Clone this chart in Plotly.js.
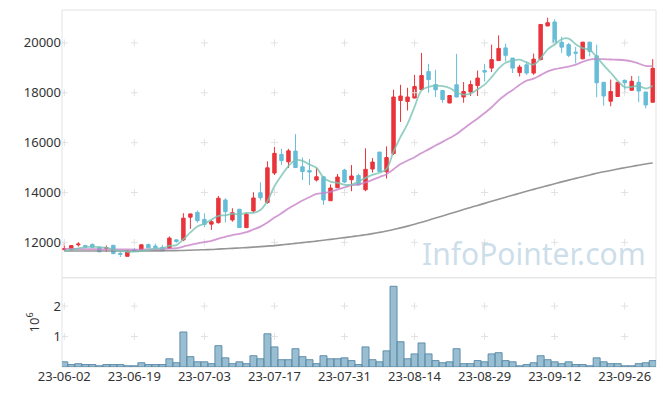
<!DOCTYPE html>
<html>
<head>
<meta charset="utf-8">
<script src="https://cdn.plot.ly/plotly-3.0.1.min.js"></script>
<style>html,body{margin:0;padding:0;background:#fff;}#chart{width:665px;height:396px;}</style>
</head>
<body>
<div id="chart"></div>
<script>
const dates = ["23-06-02","23-06-05","23-06-07","23-06-08","23-06-09","23-06-12","23-06-13","23-06-14","23-06-15","23-06-16",
"23-06-19","23-06-20","23-06-21","23-06-22","23-06-23","23-06-26","23-06-27","23-06-28","23-06-29","23-06-30",
"23-07-03","23-07-04","23-07-05","23-07-06","23-07-07","23-07-10","23-07-11","23-07-12","23-07-13","23-07-14",
"23-07-17","23-07-18","23-07-19","23-07-20","23-07-21","23-07-24","23-07-25","23-07-26","23-07-27","23-07-28",
"23-07-31","23-08-01","23-08-02","23-08-03","23-08-04","23-08-07","23-08-08","23-08-09","23-08-10","23-08-11",
"23-08-14","23-08-16","23-08-17","23-08-18","23-08-21","23-08-22","23-08-23","23-08-24","23-08-25","23-08-28",
"23-08-29","23-08-30","23-08-31","23-09-01","23-09-04","23-09-05","23-09-06","23-09-07","23-09-08","23-09-11",
"23-09-12","23-09-13","23-09-14","23-09-15","23-09-18","23-09-19","23-09-20","23-09-21","23-09-22","23-09-25",
"23-09-26","23-09-27","23-10-04","23-10-05","23-10-06"];

const open = [11720,11700,11900,11870,11910,11800,11760,11880,11560,11440,
11700,11700,11910,11850,11800,11760,12100,12100,13010,13200,
12920,12730,12790,13700,12900,13330,12590,13260,13990,13600,
14780,15530,15230,15660,15030,14880,14500,14630,13670,14190,
14900,14510,14680,14110,14940,15620,14830,15560,17690,17650,
17790,18130,18850,18330,18090,17590,18320,17830,18030,18290,
18890,18990,19290,19800,19390,18810,19120,18790,19330,20680,
20840,20030,19930,19630,19360,20030,19480,18420,17660,17850,
18500,18100,18420,18030,17620];
const high = [11980,11880,12010,11900,11960,11830,11870,11900,11620,11690,
11780,11930,11950,11950,11900,12240,12110,13170,13150,13280,
13160,12900,13860,13770,13370,13340,13170,14010,14410,15250,
15830,15750,15750,16340,15400,15340,14990,14660,14320,14740,
14950,15100,14750,15770,15380,15630,15850,18120,18320,18200,
18720,19600,19160,18920,18100,17900,19560,18430,18490,18890,
19160,19930,20300,19970,19400,19120,19250,19570,20750,21010,
20950,20250,20000,19840,20040,20040,19930,18430,18530,18430,
18530,18670,18670,18040,19350];
const low = [11650,11650,11830,11790,11760,11610,11620,11520,11410,11430,
11620,11690,11760,11720,11660,11740,11990,12050,12540,12790,
12610,12500,12750,12800,12830,12580,12580,13200,13680,13550,
14700,15110,14980,14990,14500,14300,14440,13500,13660,14180,
14380,14050,14280,14050,14800,14830,14560,15500,16830,17290,
17780,18120,18000,17830,17600,17580,17820,17600,17870,17870,
18450,18830,19280,19260,18790,18650,18720,18720,19300,20670,
19990,19600,19430,19180,19350,19460,17820,17480,17460,17840,
17990,18090,17620,17370,17610];
const close = [11740,11870,11930,11810,11800,11620,11780,11550,11520,11640,
11650,11900,11780,11790,11680,12170,12030,12970,13140,12870,
12720,12830,13770,13230,13190,12590,13130,13780,13790,14990,
15570,15280,15670,15000,14840,14820,14630,13700,14180,14620,
14420,14660,14310,14930,15220,14840,15400,17830,17870,17830,
18250,18690,18530,18120,17730,17890,17830,18050,18330,18590,
18830,19330,19780,19500,18990,19030,18790,19350,20740,20810,
20000,19830,19500,19590,20030,19660,18400,17870,18050,18420,
18400,18460,18070,17510,18980];

const ma5 = [11660,11700,11760,11810,11830,11806,11788,11712,11654,11622,
11628,11652,11698,11752,11760,11864,11890,12128,12398,12636,
12746,12906,13066,13084,13148,13122,13182,13184,13296,13656,
14252,14682,15060,15302,15272,15122,14992,14598,14434,14390,
14310,14316,14438,14588,14708,14792,14940,15644,16232,16754,
17436,18094,18234,18284,18264,18192,18020,17924,17966,18138,
18326,18626,18972,19206,19286,19326,19218,19132,19380,19744,
19938,20146,20176,19946,19790,19722,19436,19110,18802,18480,
18228,18240,18280,18172,18284];
const ma20 = [11740,11735,11730,11728,11725,11722,11720,11718,11716,11714,
11712,11712,11714,11718,11728,11751,11768,11831,11903,11962,
12011,12059,12151,12222,12292,12340,12408,12519,12633,12800,
12996,13165,13360,13520,13678,13811,13941,13977,14029,14117,
14202,14293,14320,14405,14507,14619,14733,14935,15139,15281,
15415,15586,15729,15885,16029,16183,16343,16560,16768,16966,
17187,17420,17694,17922,18111,18320,18490,18566,18709,18858,
18946,19003,19051,19125,19240,19328,19357,19348,19334,19325,
19304,19260,19175,19075,19075];
const ma120 = [11650,11650,11650,11650,11650,11650,11650,11650,11650,11650,
11650,11650,11655,11660,11660,11665,11670,11675,11685,11695,
11705,11715,11730,11745,11760,11775,11790,11810,11830,11850,
11870,11900,11930,11960,11990,12020,12050,12085,12120,12155,
12190,12225,12265,12305,12350,12400,12455,12515,12580,12650,
12725,12805,12890,12975,13060,13145,13230,13315,13400,13482,
13564,13646,13728,13810,13890,13970,14048,14125,14200,14275,
14350,14425,14495,14565,14635,14705,14770,14830,14885,14940,
14995,15045,15095,15140,15180];

const volume = [0.17,0.08,0.11,0.08,0.08,0.04,0.08,0.08,0.08,0.04,
0.04,0.14,0.08,0.08,0.08,0.27,0.14,1.15,0.34,0.17,
0.17,0.11,0.70,0.30,0.11,0.17,0.11,0.37,0.27,1.09,
0.66,0.24,0.24,0.60,0.34,0.24,0.11,0.37,0.27,0.27,
0.30,0.21,0.08,0.66,0.24,0.17,0.53,2.65,0.83,0.27,
0.43,0.79,0.43,0.21,0.14,0.17,0.60,0.11,0.11,0.21,
0.17,0.43,0.47,0.21,0.17,0.04,0.08,0.14,0.37,0.24,
0.17,0.11,0.17,0.08,0.08,0.04,0.30,0.17,0.11,0.11,
0.04,0.04,0.11,0.14,0.21];

const tickLabels = ["23-06-02","23-06-19","23-07-03","23-07-17","23-07-31","23-08-14","23-08-29","23-09-12","23-09-26"];
const priceTicks = [12000,14000,16000,18000,20000];
const volTicks = [1,2];

const gx = [], gy = [], vx = [], vy = [];
tickLabels.forEach(t => {
  priceTicks.forEach(p => { gx.push(t); gy.push(p); });
  volTicks.forEach(v => { vx.push(t); vy.push(v); });
});

const UP = '#e9343b', DOWN = '#66bdd8';
const traces = [
  {type:'candlestick', x:dates, open:open, high:high, low:low, close:close, xaxis:'x', yaxis:'y',
   hoverinfo:'skip', whiskerwidth:0,
   increasing:{line:{color:UP, width:1}, fillcolor:UP},
   decreasing:{line:{color:DOWN, width:1}, fillcolor:DOWN}},
  {type:'scatter', mode:'markers', x:gx, y:gy, xaxis:'x', yaxis:'y', hoverinfo:'skip',
   marker:{symbol:'cross-thin', size:5, line:{color:'#e2e2e2', width:1}}},
  {type:'scatter', mode:'markers', x:vx, y:vy, xaxis:'x', yaxis:'y2', hoverinfo:'skip',
   marker:{symbol:'cross-thin', size:5, line:{color:'#e2e2e2', width:1}}},
  {type:'scatter', mode:'lines', x:dates, y:ma120, xaxis:'x', yaxis:'y', hoverinfo:'skip',
   line:{color:'rgba(130,130,130,0.85)', width:1.6, shape:'spline'}},
  {type:'scatter', mode:'lines', x:dates, y:ma20, xaxis:'x', yaxis:'y', hoverinfo:'skip',
   line:{color:'rgba(200,130,200,0.8)', width:1.8, shape:'spline'}},
  {type:'scatter', mode:'lines', x:dates, y:ma5, xaxis:'x', yaxis:'y', hoverinfo:'skip',
   line:{color:'rgba(120,195,180,0.8)', width:1.8, shape:'spline'}},
  {type:'bar', x:dates, y:volume, xaxis:'x', yaxis:'y2', hoverinfo:'skip',
   marker:{color:'rgba(125,172,196,0.78)', line:{color:'rgba(85,135,165,0.9)', width:1}}}
];

const layout = {
  width:665, height:396,
  margin:{l:62, r:9, t:10, b:28.5},
  paper_bgcolor:'#fff', plot_bgcolor:'#fff',
  showlegend:false, bargap:0,
  font:{family:'"Noto Sans", "Open Sans", sans-serif', size:13, color:'#333'},
  xaxis:{type:'category', categoryorder:'array', categoryarray:dates, anchor:'y2', range:[-0.33, 84.47],
         showgrid:false, zeroline:false,
         tickmode:'array', tickvals:tickLabels, ticktext:tickLabels, ticks:'', showline:false,
         tickfont:{size:13, color:'#333'}, rangeslider:{visible:false}},
  yaxis:{domain:[0.25,1], anchor:'x', range:[10580, 21320], tickmode:'array', tickvals:priceTicks,
         tickformat:'d', showgrid:false, zeroline:false, ticks:'', tickfont:{size:13, color:'#333'}},
  yaxis2:{domain:[0,0.25], anchor:'x', range:[0, 2.93], tickmode:'array', tickvals:volTicks,
          showgrid:false, zeroline:false, ticks:'', tickfont:{size:13, color:'#333'},
          title:{text:'10<sup>6</sup>', font:{size:13, color:'#333'}, standoff:11}},
  shapes:[
    {type:'rect', xref:'paper', yref:'paper', x0:0, x1:1, y0:0.25, y1:1, line:{color:'#e3e3e3', width:1}, layer:'below'},
    {type:'rect', xref:'paper', yref:'paper', x0:0, x1:1, y0:0, y1:0.25, line:{color:'#e3e3e3', width:1}, layer:'below'}
  ],
  annotations:[
    {text:'InfoPointer.com', xref:'paper', yref:'paper', x:0.986, y:0.318, xanchor:'right', yanchor:'middle',
     showarrow:false, font:{size:30, color:'rgba(170,200,218,0.6)', family:'"Noto Sans", sans-serif'}}
  ]
};

Plotly.newPlot('chart', traces, layout, {staticPlot:true, displayModeBar:false});
</script>
</body>
</html>
